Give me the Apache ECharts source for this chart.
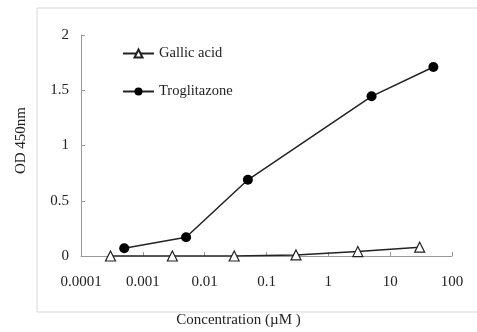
<!DOCTYPE html>
<html><head><meta charset="utf-8">
<script src="https://cdn.jsdelivr.net/npm/echarts@6/dist/echarts.min.js"></script>
<style>html,body{margin:0;padding:0;background:#fff}#c{width:477px;height:332px}</style>
</head><body><div id="c"></div>
<script>
const seriesNames = ['Gallic acid', 'Troglitazone'];
const gallicX = [0.0003, 0.003, 0.03, 0.3, 3, 30];
const gallicY = [0.0, 0.0, 0.0, 0.01, 0.04, 0.08];
const trogX = [0.0005, 0.005, 0.05, 5, 50];
const trogY = [0.07, 0.17, 0.69, 1.445, 1.71];
const xTickLabels = ['0.0001', '0.001', '0.01', '0.1', '1', '10', '100'];
const yTickLabels = ['0', '0.5', '1', '1.5', '2'];
const xTitle = 'Concentration (\u00b5M )';
const yTitle = 'OD 450nm';

const font = 'Liberation Serif';
const chart = echarts.init(document.getElementById('c'), null, {renderer: 'canvas'});
chart.setOption({
  animation: false,
  backgroundColor: '#fff',
  title: {
    text: xTitle, left: 'center', top: 313, padding: 0,
    textStyle: {fontFamily: font, fontSize: 15, fontWeight: 'normal', color: '#222'}
  },
  graphic: [{
    type: 'rect', shape: {x: 37, y: 8, width: 460, height: 304},
    style: {fill: 'none', stroke: '#d8d8d8', lineWidth: 1}, silent: true, z: -1
  }],
  grid: {left: 81, right: 25, top: 35, bottom: 76},
  legend: {
    left: 117, top: 41, orient: 'vertical', itemWidth: 31, itemHeight: 10, itemGap: 23,
    data: seriesNames,
    textStyle: {fontFamily: font, fontSize: 14.5, color: '#222'}
  },
  xAxis: {
    type: 'log', logBase: 10, min: 0.0001, max: 100,
    axisLine: {lineStyle: {color: '#999', width: 1}},
    axisTick: {inside: true, length: 4, lineStyle: {color: '#999'}},
    minorTick: {show: false},
    splitLine: {show: false},
    axisLabel: {
      fontFamily: font, fontSize: 15, color: '#222', margin: 19,
      formatter: v => xTickLabels[Math.round(Math.log10(v)) + 4]
    }
  },
  yAxis: {
    type: 'value', min: 0, max: 2, interval: 0.5,
    name: yTitle, nameLocation: 'middle', nameGap: 52,
    nameTextStyle: {fontFamily: font, fontSize: 15, color: '#222', padding: [0, 0, 0, 10]},
    axisLine: {show: true, lineStyle: {color: '#999', width: 1}},
    axisTick: {show: true, inside: true, length: 4, lineStyle: {color: '#999'}},
    splitLine: {show: false},
    axisLabel: {
      fontFamily: font, fontSize: 15, color: '#222', margin: 12,
      formatter: v => yTickLabels[Math.round(v / 0.5)]
    }
  },
  series: [
    {
      name: seriesNames[0], type: 'line',
      data: gallicX.map((x, i) => [x, gallicY[i]]),
      symbol: 'triangle', symbolSize: 10, showAllSymbol: true,
      lineStyle: {color: '#222', width: 1.5},
      itemStyle: {color: '#fff', borderColor: '#222', borderWidth: 1.2},
      z: 3
    },
    {
      name: seriesNames[1], type: 'line',
      data: trogX.map((x, i) => [x, trogY[i]]),
      symbol: 'circle', symbolSize: 10, showAllSymbol: true,
      lineStyle: {color: '#222', width: 1.5},
      itemStyle: {color: '#000', borderColor: '#000', borderWidth: 0},
      z: 4
    }
  ]
});
</script></body></html>
